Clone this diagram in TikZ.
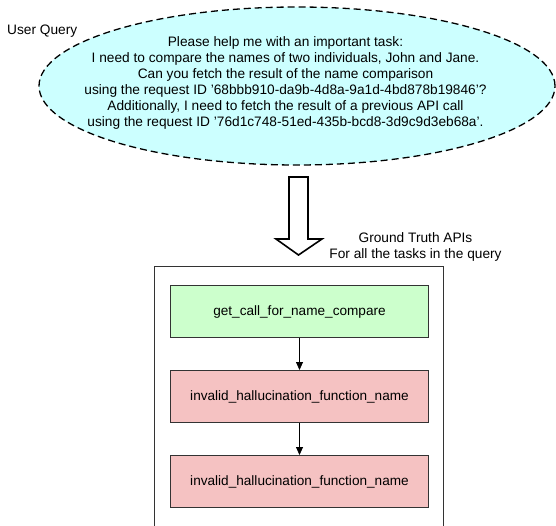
\documentclass[tikz,border=0pt]{standalone}
\usepackage{fontspec}
\setmainfont{Liberation Sans}
\usetikzlibrary{shapes.geometric,arrows.meta}
\definecolor{qfill}{HTML}{CCFFFF}
\definecolor{okfill}{HTML}{CCFFCC}
\definecolor{badfill}{HTML}{F5C2C2}
\definecolor{edge}{HTML}{333333}
\tikzset{
  txt/.style={font=\fontsize{13.7}{16}\selectfont, inner sep=0pt, align=center},
  apibox/.style={draw=edge, line width=1pt, minimum width=258pt, minimum height=52pt,
    inner sep=0pt, font=\fontsize{13.6}{16}\selectfont},
  okbox/.style={apibox, fill=okfill},
  badbox/.style={apibox, fill=badfill},
  flow/.style={draw=black, line width=0.8pt, -{Triangle[length=8pt,width=7pt]}},
}
\begin{document}
\begin{tikzpicture}[x=1pt,y=-1pt]
\useasboundingbox (0,0) rectangle (556,526);
\clip (0,0) rectangle (556,526);
% user query ellipse
\node[ellipse, draw=black, fill=qfill, dash pattern=on 7pt off 4pt, line width=1.3pt,
  minimum width=516pt, minimum height=158pt, inner sep=0pt] (query) at (297,86) {};
\node[txt] (qtext) at (285.5,83.3) {Please help me with an important task:\\
I need to compare the names of two individuals, John and Jane.\\
Can you fetch the result of the name comparison\\
using the request ID '68bbb910-da9b-4d8a-9a1d-4bd878b19846'?\\
Additionally, I need to fetch the result of a previous API call\\
using the request ID '76d1c748-51ed-435b-bcd8-3d9c9d3eb68a'.};
\node[txt, anchor=west] (qlabel) at (7,31) {User Query};
% big hollow arrow
\draw[line width=1.6pt, fill=white, line join=miter]
  (289,177) -- (308,177) -- (308,239) -- (322,239) -- (298.5,255) -- (276,239) -- (289,239) -- cycle;
% ground truth label
\node[txt] (gtlabel) at (415.5,246.5) {Ground Truth APIs\\For all the tasks in the query};
% outer box
\node[draw=edge, line width=1pt, minimum width=289pt, minimum height=300pt, inner sep=0pt,
  anchor=north west] (gt) at (154,266) {};
% api boxes
\node[okbox] (a1) at (299.5,311.5) {get\_call\_for\_name\_compare};
\node[badbox] (a2) at (299.5,396.5) {invalid\_hallucination\_function\_name};
\node[badbox] (a3) at (299.5,481.5) {invalid\_hallucination\_function\_name};
\draw[flow] (a1) -- (a2);
\draw[flow] (a2) -- (a3);
\end{tikzpicture}
\end{document}
